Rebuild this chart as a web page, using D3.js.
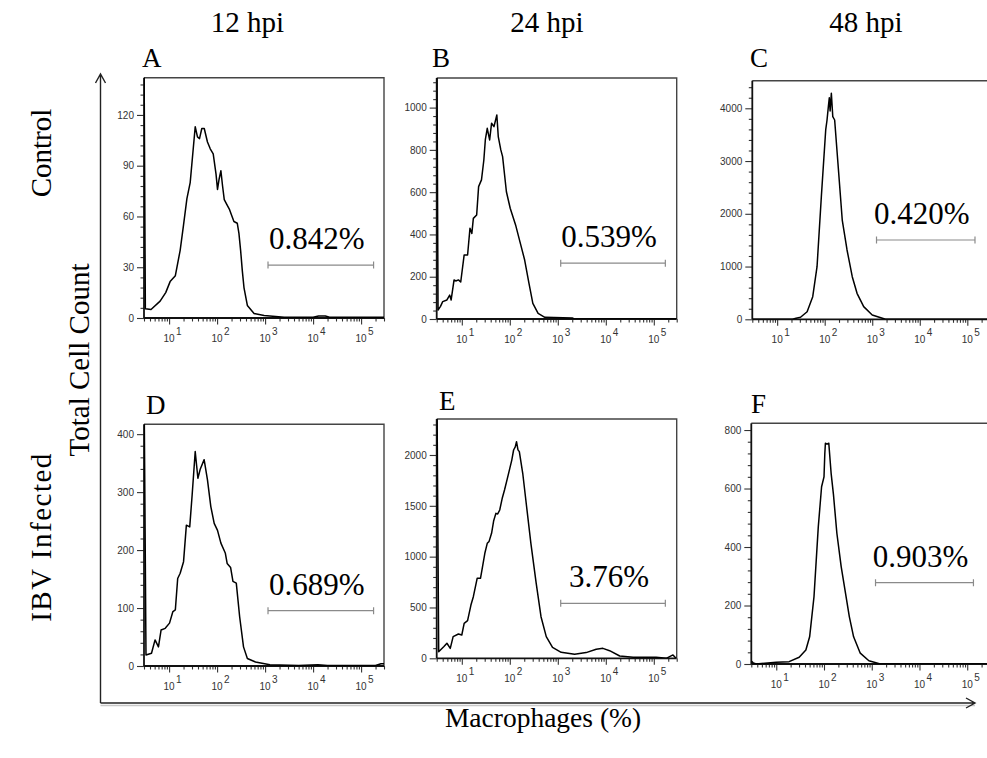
<!DOCTYPE html>
<html>
<head>
<meta charset="utf-8">
<script src="https://cdn.jsdelivr.net/npm/d3@7"></script>
<style>
  html, body { margin: 0; padding: 0; background: #fff; }
  svg { display: block; }
</style>
</head>
<body>
<svg id="chart" width="987" height="758"></svg>
<script>
// ---------------- DATA ----------------
const colTitles = ["12 hpi", "24 hpi", "48 hpi"];
const rowTitles = ["Control", "IBV Infected"];
const yAxisTitle = "Total Cell Count";
const xAxisTitle = "Macrophages (%)";
const panelIds = ["A", "B", "C", "D", "E", "F"];
const gatePercents = ["0.842%", "0.539%", "0.420%", "0.689%", "3.76%", "0.903%"];

const xDomain = [3, 300000];
const xTickExponents = [1, 2, 3, 4, 5];

const yMax = [142, 1140, 4523, 417, 2354, 823];
const yMajorStep = [30, 200, 1000, 100, 500, 200];

const gateLo = [1150, 1150, 1230, 1150, 1150, 1200];
const gateHi = [182000, 174000, 145000, 182000, 174000, 135000];
const gateY = [31.3, 264, 1503, 95.5, 541, 278];

// [intensity, count]
const histA = [[3,160],[3.2,5.5],[4.2,5],[6.5,10],[8.5,15],[10.5,21.5],[13.5,25],[17,40],[20,55],[23.5,70.5],[27.5,80],[35,113],[39,107],[43,106],[48,112],[54,112],[63,104],[72,100],[83,97],[95,85],[102,76],[110,82],[120,87],[130,78],[141,70],[160,67],[182,64],[205,60],[224,57],[263,56],[285,50],[309,40],[335,28],[363,18],[427,7.4],[589,2.6],[955,1.5],[2500,0.5],[10000,0.5],[13000,1.2],[18000,1.2],[22000,0.5],[300000,0.5]];
const histB = [[3,1500],[3.2,42],[3.6,60],[4,82],[4.9,90],[5.6,113],[6.0,90],[6.9,185],[7.5,180],[8.5,185],[9.5,175],[11.2,303],[13.2,303],[14.8,429],[16.2,405],[17.4,476],[20.4,492],[22.4,626],[25.7,658],[28.8,752],[31,850],[33.9,902],[38,847],[41.7,926],[46.8,910],[53.7,965],[57.5,863],[65,800],[70.8,768],[78,680],[85,602],[102,524],[132,445],[166,358],[204,279],[251,169],[302,74],[389,27],[537,8],[2000,5],[2200,0.5],[300000,0.5]];
const histC = [[3,0],[21,0],[25,20],[31,38],[42.7,144],[56,428],[69,997],[85,2324],[105,3589],[112,3778],[120,4050],[125,4200],[130,3950],[138,4284],[148,3841],[162,3778],[190,2957],[234,1882],[295,1314],[380,808],[479,493],[661,240],[1000,82],[1900,0],[300000,0]];
const histD = [[3,500],[3.3,19],[4.3,22],[5.1,45],[6.0,33],[6.8,62],[8.3,65],[10.2,74],[12,94],[13.5,97],[15.1,151],[17,160],[20,180],[22.9,243],[26.9,240],[30.2,295],[35,370],[39.8,324],[44.7,340],[53.7,356],[63,321],[74,275],[87,246],[102,234],[120,212],[148,195],[162,177],[191,170],[214,146],[251,143],[295,85],[355,33],[427,13],[631,7],[1260,2],[5000,1],[12600,2],[20000,1],[200000,1],[260000,4],[300000,4]];
const histE = [[3,3000],[3.3,65],[4.2,114],[4.9,148],[5.75,98],[6.6,213],[8.5,239],[10,229],[11.2,344],[13.2,370],[15.5,524],[17.4,606],[20.9,787],[24.5,787],[27,900],[30.2,1033],[33.9,1131],[37,1150],[41.7,1230],[46,1350],[51.3,1426],[56,1420],[61.7,1459],[70,1580],[77.6,1656],[88,1760],[100,1869],[110,1950],[120,2049],[130,2080],[138,2131],[148,2050],[158,2033],[186,1820],[224,1491],[275,1131],[355,738],[447,409],[575,213],[776,108],[1175,59],[2240,39],[3890,56],[6310,89],[8710,98],[12000,75],[19500,23],[37200,10],[112000,10],[182000,0],[251000,33],[290000,0]];
const histF = [[3,10],[3.3,4],[3.8,0],[10,6],[18.6,8],[30.2,23],[41.7,48],[50,93],[61.7,230],[75.9,469],[89,606],[100,640],[104,720],[107,755],[115,752],[126,755],[141,652],[158,578],[186,447],[229,333],[282,242],[339,162],[417,93],[575,37],[871,11],[1510,0],[300000,0]];
const histograms = [histA, histB, histC, histD, histE, histF];

// ---------------- LAYOUT ----------------
const frames = [
  {l:144,   r:384,   t:77.7,  b:318},
  {l:436.7, r:676.7, t:78,    b:319},
  {l:752.3, r:990,   t:80.7,  b:319.3},
  {l:144,   r:384,   t:424.3, b:666},
  {l:436.7, r:676.7, t:419,   b:658.3},
  {l:751.3, r:990,   t:423.3, b:664}
];
const letterPos = [[142,66.7],[432,67],[750,67],[146,414],[439,410],[751,413]];
const colTitleX = [247.5, 547, 866];

const svg = d3.select("#chart");
const serif = "'Liberation Serif', 'Times New Roman', serif";
const sans = "'Liberation Sans', Arial, sans-serif";

// Column titles
svg.selectAll("text.col").data(colTitles).enter().append("text")
  .attr("x", (d,i) => colTitleX[i]).attr("y", 31.7)
  .attr("text-anchor", "middle")
  .style("font-family", serif).style("font-size", "29px").attr("fill", "#000")
  .text(d => d);

// Row titles
const rowY = [153, 537];
const rowSpacing = [0, 1.5];
rowTitles.forEach((t,i) => {
  svg.append("text")
    .attr("transform", `translate(50.5,${rowY[i]}) rotate(-90)`)
    .attr("text-anchor", "middle")
    .style("font-family", serif).style("font-size", "29px")
    .style("letter-spacing", rowSpacing[i] + "px").attr("fill", "#000")
    .text(t);
});
svg.append("text")
  .attr("transform", `translate(88.5,360) rotate(-90)`)
  .attr("text-anchor", "middle")
  .style("font-family", serif).style("font-size", "29px").attr("fill", "#000")
  .text(yAxisTitle);
svg.append("text")
  .attr("x", 543).attr("y", 727)
  .attr("text-anchor", "middle")
  .style("font-family", serif).style("font-size", "27.5px").attr("fill", "#000")
  .text(xAxisTitle);

// Big outer axes with arrows
svg.append("line").attr("x1",100.5).attr("y1",705.5).attr("x2",975).attr("y2",705.5)
  .attr("stroke","#c8c8c8").attr("stroke-width",1.5);
svg.append("path").attr("d","M100.5,703 L100.5,74 M95.5,83 L100.5,74 L105.5,83")
  .attr("fill","none").attr("stroke","#222").attr("stroke-width",1.4);
svg.append("path").attr("d","M100.5,703 L975,703 M966,698 L975,703 L966,708")
  .attr("fill","none").attr("stroke","#222").attr("stroke-width",1.4);

const defs = svg.append("defs");

histograms.forEach((data, i) => {
  const f = frames[i];
  const x = d3.scaleLog().domain(xDomain).range([f.l, f.r]);
  const y = d3.scaleLinear().domain([0, yMax[i]]).range([f.b, f.t]);
  const g = svg.append("g");

  defs.append("clipPath").attr("id", "clip" + i)
    .append("rect").attr("x", f.l).attr("y", f.t).attr("width", f.r - f.l).attr("height", f.b - f.t);

  // frame (top & right)
  g.append("path")
    .attr("d", `M${f.l},${f.t} L${f.r},${f.t} L${f.r},${f.b}`)
    .attr("fill","none").attr("stroke","#444").attr("stroke-width",1.4);

  // y axis
  const step = yMajorStep[i];
  const majors = d3.range(0, yMax[i] + 1e-9, step);
  const minors = d3.range(0, yMax[i] + 1e-9, step / 5).filter(v => Math.abs(v / step - Math.round(v / step)) > 1e-6);
  const yMinor = g.append("g").attr("transform", `translate(${f.l},0)`)
    .call(d3.axisLeft(y).tickValues(minors).tickSize(3.5).tickFormat(""));
  const yMajor = g.append("g").attr("transform", `translate(${f.l},0)`)
    .call(d3.axisLeft(y).tickValues(majors).tickSize(7).tickPadding(3).tickFormat(d3.format("d")));
  [yMinor, yMajor].forEach(ax => {
    ax.select(".domain").remove();
    ax.selectAll("line").attr("stroke","#333").attr("stroke-width",1.1);
    ax.selectAll("text").style("font-family", sans).style("font-size","10px").attr("fill","#333");
  });
  g.append("line").attr("x1", f.l).attr("x2", f.l).attr("y1", f.t).attr("y2", f.b)
    .attr("stroke","#111").attr("stroke-width",1.8);

  // x axis
  const xMajVals = xTickExponents.map(e => Math.pow(10, e));
  const xMinVals = [];
  for (let e = 0; e <= 5; e++) for (let k = 2; k <= 9; k++) {
    const v = k * Math.pow(10, e);
    if (v >= xDomain[0] && v <= xDomain[1]) xMinVals.push(v);
  }
  const xMinor = g.append("g").attr("transform", `translate(0,${f.b})`)
    .call(d3.axisBottom(x).tickValues(xMinVals).tickSize(3.5).tickFormat(""));
  const xMajor = g.append("g").attr("transform", `translate(0,${f.b})`)
    .call(d3.axisBottom(x).tickValues(xMajVals).tickSize(6.5).tickFormat(""));
  [xMinor, xMajor].forEach(ax => {
    ax.select(".domain").remove();
    ax.selectAll("line").attr("stroke","#333").attr("stroke-width",1.1);
  });
  g.append("line").attr("x1", f.l).attr("x2", f.r).attr("y1", f.b).attr("y2", f.b)
    .attr("stroke","#111").attr("stroke-width",1.8);
  const lbl = g.append("g");
  xTickExponents.forEach(e => {
    const px = x(Math.pow(10, e));
    lbl.append("text").attr("x", px).attr("y", f.b + 24).attr("text-anchor","middle")
      .style("font-family", sans).style("font-size","10px").attr("fill","#333").text("10");
    lbl.append("text").attr("x", px + 7).attr("y", f.b + 17)
      .style("font-family", sans).style("font-size","10px").attr("fill","#333").text(e);
  });

  // histogram line
  g.append("path").datum(data)
    .attr("clip-path", `url(#clip${i})`)
    .attr("d", d3.line().x(d => x(d[0])).y(d => y(d[1])))
    .attr("fill","none").attr("stroke","#000").attr("stroke-width",1.5)
    .attr("stroke-linejoin","round");

  // gate
  const gx1 = x(gateLo[i]), gx2 = x(gateHi[i]), gy = y(gateY[i]);
  g.append("path")
    .attr("d", `M${gx1},${gy} L${gx2},${gy} M${gx1},${gy-3.5} L${gx1},${gy+3.5} M${gx2},${gy-3.5} L${gx2},${gy+3.5}`)
    .attr("fill","none").attr("stroke","#8a8a8a").attr("stroke-width",1.2);
  g.append("text").attr("x", (gx1 + gx2) / 2 - 4).attr("y", gy - 16)
    .attr("text-anchor","middle")
    .style("font-family", serif).style("font-size","31px").attr("fill","#000")
    .text(gatePercents[i]);

  // panel letter
  g.append("text").attr("x", letterPos[i][0]).attr("y", letterPos[i][1])
    .style("font-family", serif).style("font-size","27px").attr("fill","#000")
    .text(panelIds[i]);
});
</script>
</body>
</html>
